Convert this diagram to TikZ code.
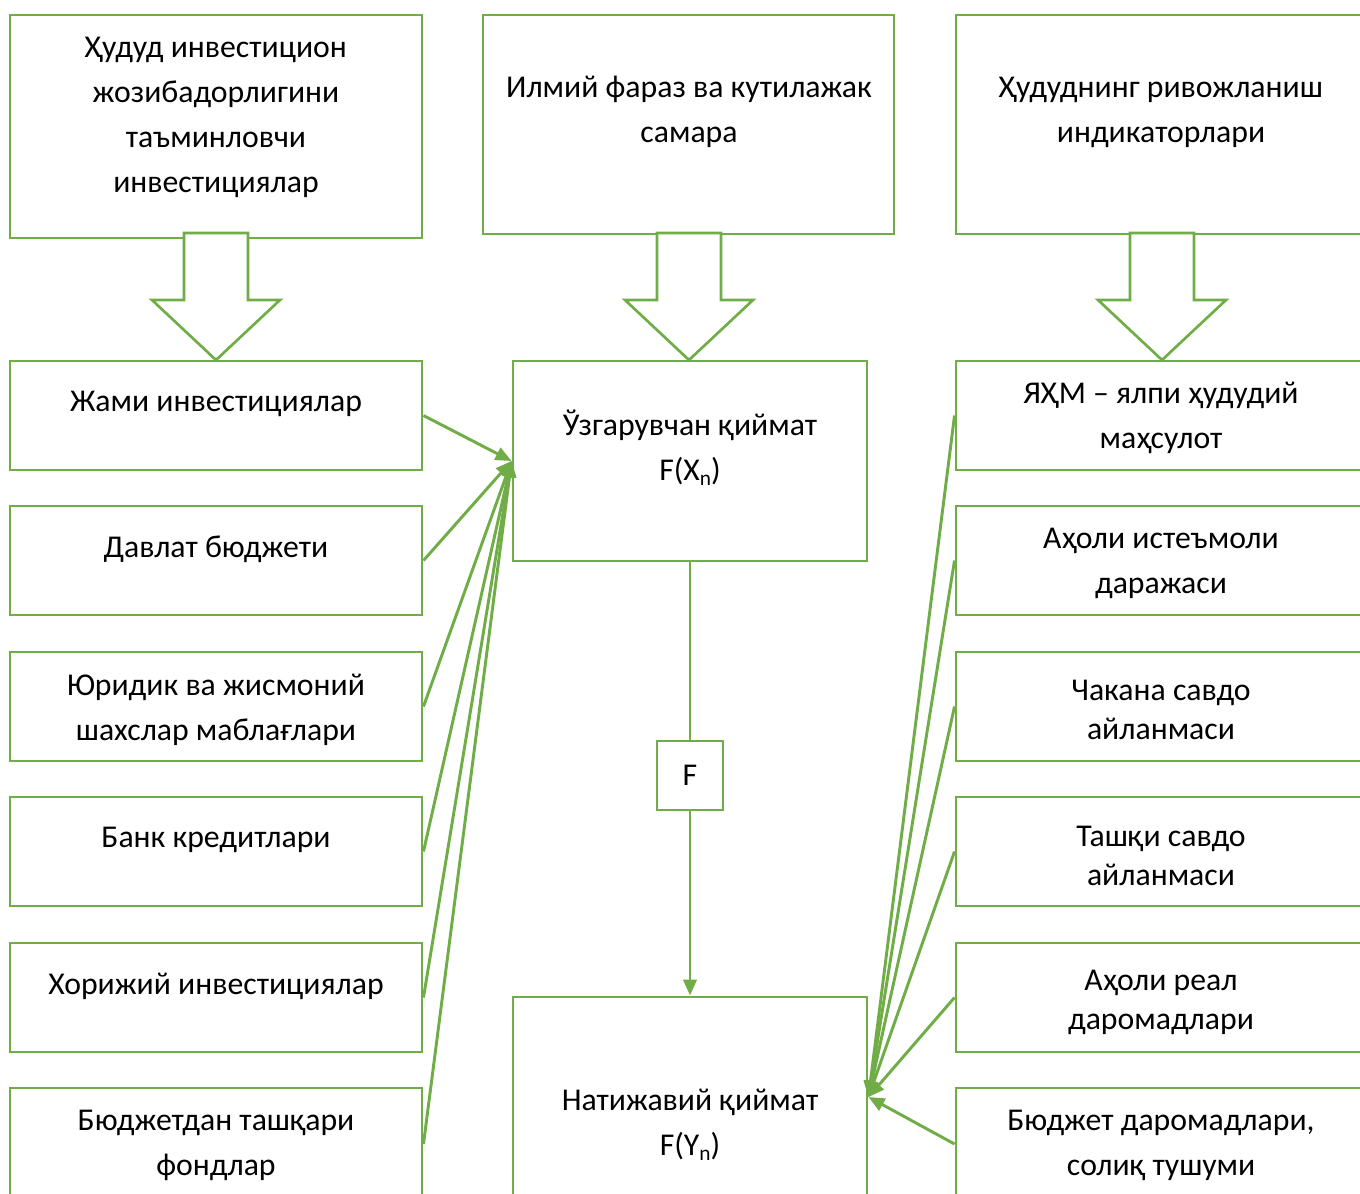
\documentclass[tikz,border=0pt]{standalone}
\usepackage{fontspec}
\setmainfont{Carlito}
\usetikzlibrary{arrows.meta,fit}
\definecolor{grn}{HTML}{70AD47}
\newcommand{\subn}{\raisebox{-0.35ex}{\fontsize{16pt}{16pt}\selectfont n}}
\begin{document}
\begin{tikzpicture}[x=0.75pt,y=-0.75pt,
  box/.style={draw=grn, line width=2.2pt, inner sep=0pt, fill=white},
  txt/.style={align=center, font=\fontsize{23.8pt}{33.75pt}\selectfont, inner sep=0pt},
  txtb/.style={align=center, font=\fontsize{23.8pt}{29.25pt}\selectfont, inner sep=0pt},
  blk/.style={draw=grn, line width=2pt, fill=white, line join=miter},
  conn/.style={draw=grn, line width=2.2pt, -{Triangle[length=12pt,width=10pt]}},
  plain/.style={draw=grn, line width=2.2pt}]
\useasboundingbox (0,0) rectangle (1360,1193);
\clip (0,0) rectangle (1360,1193);
\fill[white] (0,0) rectangle (1360,1193);
% left column
\node[box, fit={(10,15)(422,238)}] (L0) {};
\node[box, fit={(10,361)(422,470)}] (L1) {};
\node[box, fit={(10,506)(422,615)}] (L2) {};
\node[box, fit={(10,652)(422,761)}] (L3) {};
\node[box, fit={(10,797)(422,906)}] (L4) {};
\node[box, fit={(10,943)(422,1052)}] (L5) {};
\node[box, fit={(10,1088)(422,1200)}] (L6) {};
% middle column
\node[box, fit={(483,15)(894,234)}] (M0) {};
\node[box, fit={(513,361)(867,561)}] (M1) {};
\node[box, fit={(657,741)(723,810)}] (MF) {};
\node[box, fit={(513,997)(867,1197)}] (M2) {};
% right column
\node[box, fit={(956,15)(1372,234)}] (R0) {};
\node[box, fit={(956,361)(1372,470)}] (R1) {};
\node[box, fit={(956,506)(1372,615)}] (R2) {};
\node[box, fit={(956,652)(1372,761)}] (R3) {};
\node[box, fit={(956,797)(1372,906)}] (R4) {};
\node[box, fit={(956,943)(1372,1052)}] (R5) {};
\node[box, fit={(956,1088)(1372,1200)}] (R6) {};
% block arrows
\draw[blk] (184,233)--(248,233)--(248,300)--(280,300)--(216,360)--(152,300)--(184,300)--cycle;
\draw[blk] (657,233)--(721,233)--(721,300)--(753,300)--(689,360)--(625,300)--(657,300)--cycle;
\draw[blk] (1130,233)--(1194,233)--(1194,300)--(1226,300)--(1162,360)--(1098,300)--(1130,300)--cycle;
% texts
\node[txt] (tL0) at (216,117) {Ҳудуд инвестицион\\жозибадорлигини\\таъминловчи\\инвестициялар};
\node[txt] (tL1) at (216,404) {Жами инвестициялар};
\node[txt] (tL2) at (216,549) {Давлат бюджети};
\node[txt] (tL3) at (216,710) {Юридик ва жисмоний\\шахслар маблағлари};
\node[txt] (tL4) at (216,840) {Банк кредитлари};
\node[txt] (tL5) at (216,986) {Хорижий инвестициялар};
\node[txt] (tL6) at (216,1145) {Бюджетдан ташқари\\фондлар};
\node[txt] (tM0) at (689,112) {Илмий фараз ва кутилажак\\самара};
\node[txt] (tM1) at (690,448) {Ўзгарувчан қиймат\\F(X\subn)};
\node[txt] (tMF) at (690,775) {F};
\node[txt] (tM2) at (690,1125) {Натижавий қиймат\\F(Y\subn)};
\node[txt] (tR0) at (1161,112) {Ҳудуднинг ривожланиш\\индикаторлари};
\node[txt] (tR1) at (1161,418) {ЯҲМ – ялпи ҳудудий\\маҳсулот};
\node[txt] (tR2) at (1161,563) {Аҳоли истеъмоли\\даражаси};
\node[txtb] (tR3) at (1161,710) {Чакана савдо\\айланмаси};
\node[txtb] (tR4) at (1161,856) {Ташқи савдо\\айланмаси};
\node[txtb] (tR5) at (1161,1002) {Аҳоли реал\\даромадлари};
\node[txt] (tR6) at (1161,1145) {Бюджет даромадлари,\\солиқ тушуми};
% connectors
\draw[plain] (M1.south) -- (MF.north);
\draw[conn] (MF.south) -- (M2.north);
\foreach \n in {L1,L2,L3,L4,L5,L6} \draw[conn] (\n.east) -- (M1.west);
\foreach \n in {R1,R2,R3,R4,R5,R6} \draw[conn] (\n.west) -- (M2.east);
\end{tikzpicture}
\end{document}
